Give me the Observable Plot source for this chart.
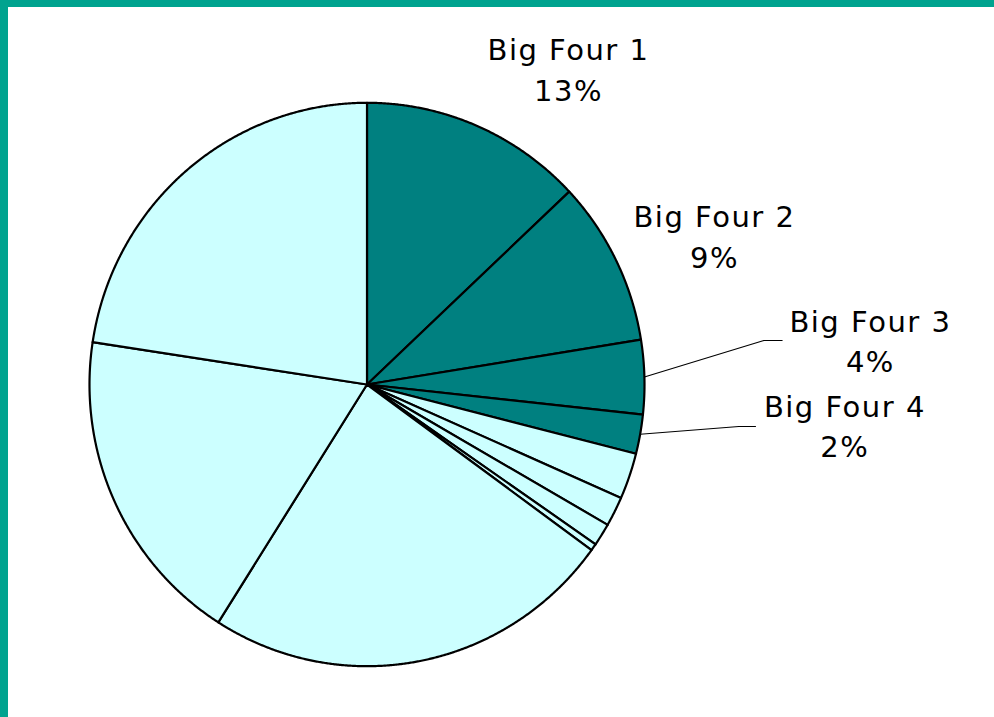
<!DOCTYPE html>
<html>
<head>
<meta charset="utf-8">
<script src="https://cdn.jsdelivr.net/npm/d3@7"></script>
<script src="https://cdn.jsdelivr.net/npm/@observablehq/plot@0.6"></script>
<style>
  html, body { margin: 0; padding: 0; background: #ffffff; }
  #frame {
    width: 986px; height: 710px;
    border-left: 8px solid #00A38F;
    border-top: 7px solid #00A38F;
    background: #ffffff;
    overflow: hidden;
  }
</style>
</head>
<body>
<div id="frame"></div>
<script>
// ---- data ----
const categories = ["Big Four 1", "Big Four 2", "Big Four 3", "Big Four 4",
  "Other 1", "Other 2", "Other 3", "Other 4", "Other 5", "Other 6", "Other 7"];
const shares = [13.0, 9.45, 4.25, 2.25, 2.65, 1.7, 1.3, 0.4, 24.0, 18.4, 22.6];
const groups = ["Big Four", "Big Four", "Big Four", "Big Four",
  "Other", "Other", "Other", "Other", "Other", "Other", "Other"];
const labelled = ["Big Four 1", "Big Four 2", "Big Four 3", "Big Four 4"];

// ---- layout (in pie-radius units) ----
const W = 986, H = 710, RX = 277.5, RY = 281.7, CX = 358.5, CY = 377;
const labelLayout = {
  "Big Four 1": {x: 0.726, y: 1.126},
  "Big Four 2": {x: 1.252, y: 0.534},
  "Big Four 3": {x: 1.814, y: 0.162},
  "Big Four 4": {x: 1.722, y: -0.140}
};
const leaderLayout = {
  "Big Four 3": [{x: 1.430, y: 0.156}, {x: 1.496, y: 0.156}],
  "Big Four 4": [{x: 1.340, y: -0.149}, {x: 1.400, y: -0.149}]
};

const table = categories.map((c, i) => ({category: c, value: shares[i], group: groups[i]}));
const arcs = d3.pie().sort(null).value(d => d.value).startAngle(0).endAngle(2 * Math.PI)(table);

// polygons for slices
const slicePts = [];
arcs.forEach(a => {
  const id = a.data.category;
  slicePts.push({id, group: a.data.group, x: 0, y: 0});
  const n = Math.max(2, Math.ceil((a.endAngle - a.startAngle) / (Math.PI / 720)));
  for (let k = 0; k <= n; k++) {
    const t = a.startAngle + (a.endAngle - a.startAngle) * k / n;
    slicePts.push({id, group: a.data.group, x: Math.sin(t), y: Math.cos(t)});
  }
  slicePts.push({id, group: a.data.group, x: 0, y: 0});
});

// leader lines
const leaderPts = [];
arcs.forEach(a => {
  const id = a.data.category;
  if (!leaderLayout[id]) return;
  const m = (a.startAngle + a.endAngle) / 2;
  leaderPts.push({id, x: Math.sin(m), y: Math.cos(m)});
  leaderLayout[id].forEach(p => leaderPts.push({id, x: p.x, y: p.y}));
});

// labels
const labels = arcs.filter(a => labelled.includes(a.data.category)).map(a => ({
  text: `${a.data.category}\n${Math.round(a.data.value)}%`,
  x: labelLayout[a.data.category].x,
  y: labelLayout[a.data.category].y
}));

const chart = Plot.plot({
  width: W,
  height: H,
  margin: 0,
  style: {background: "transparent", letterSpacing: "1.5px"},
  x: {domain: [-CX / RX, (W - CX) / RX], range: [0, W], axis: null},
  y: {domain: [-(H - CY) / RY, CY / RY], range: [H, 0], axis: null},
  color: {domain: ["Big Four", "Other"], range: ["#008080", "#CCFFFF"]},
  marks: [
    Plot.line(slicePts, {x: "x", y: "y", z: "id", fill: "group", stroke: "#000000",
      strokeWidth: 2.2, strokeLinejoin: "round", curve: "linear"}),
    Plot.line(leaderPts, {x: "x", y: "y", z: "id", stroke: "#000000", strokeWidth: 1.1}),
    Plot.text(labels, {x: "x", y: "y", text: "text", fontSize: 29, lineHeight: 1.41,
      fontFamily: "DejaVu Sans, Verdana, sans-serif", fill: "#000000", textAnchor: "middle",
      lineAnchor: "middle"})
  ]
});
document.getElementById("frame").appendChild(chart);
</script>
</body>
</html>
